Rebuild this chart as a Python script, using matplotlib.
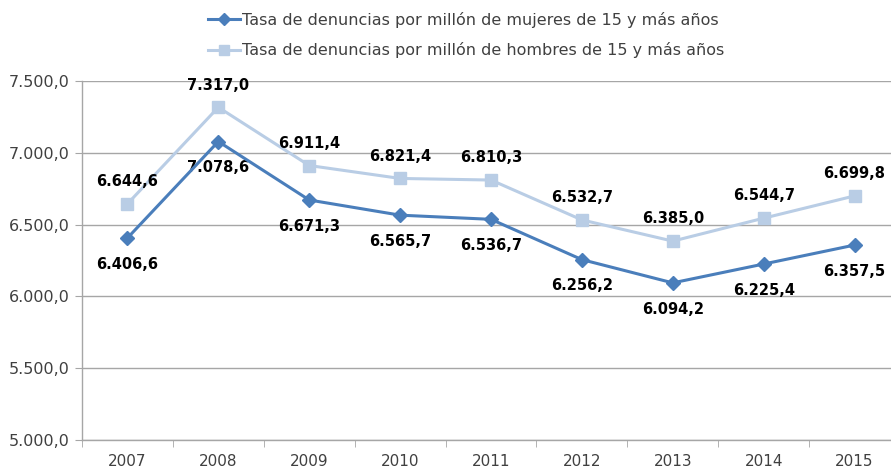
import matplotlib
matplotlib.use("Agg")
import matplotlib.pyplot as plt
from matplotlib.ticker import FuncFormatter, FixedLocator

years = ["2007", "2008", "2009", "2010", "2011", "2012", "2013", "2014", "2015"]
mujeres = [6406.6, 7078.6, 6671.3, 6565.7, 6536.7, 6256.2, 6094.2, 6225.4, 6357.5]
hombres = [6644.6, 7317.0, 6911.4, 6821.4, 6810.3, 6532.7, 6385.0, 6544.7, 6699.8]
label_m = "Tasa de denuncias por millón de mujeres de 15 y más años"
label_h = "Tasa de denuncias por millón de hombres de 15 y más años"

plt.rcParams['font.family'] = ['DejaVu Sans']

def es_fmt(v):
    s = f"{v:,.1f}"
    return s.replace(",", "X").replace(".", ",").replace("X", ".")

c_m = "#4A7EBB"
c_h = "#B9CDE5"
grid_c = "#A6A6A6"
txt_c = "#404040"

fig = plt.figure(figsize=(8.91, 4.72), dpi=100)
ax = fig.add_axes([82/891, 32/472, (900-82)/891, (440-81)/472])

x = list(range(len(years)))
ax.plot(x, hombres, color=c_h, lw=2.2, marker="s", ms=9, label=label_h, zorder=3)
ax.plot(x, mujeres, color=c_m, lw=2.2, marker="D", ms=7.5, label=label_m, zorder=4)

for xi, v in zip(x, hombres):
    ax.annotate(es_fmt(v), (xi, v), xytext=(0, 16), textcoords="offset points",
                ha="center", va="center", fontsize=10.5, fontweight="bold", color="black")
for xi, v in zip(x, mujeres):
    ax.annotate(es_fmt(v), (xi, v), xytext=(0, -19), textcoords="offset points",
                ha="center", va="center", fontsize=10.5, fontweight="bold", color="black")

ax.set_xlim(-0.5, 8.5)
ax.set_ylim(5000, 7500)
ax.set_yticks([5000, 5500, 6000, 6500, 7000, 7500])
ax.yaxis.set_major_formatter(FuncFormatter(lambda v, p: es_fmt(v)))
ax.set_xticks(x)
ax.set_xticklabels(years)
ax.xaxis.set_minor_locator(FixedLocator([i + 0.5 for i in range(-1, len(years))]))
ax.tick_params(axis="x", which="major", length=0, pad=10, labelsize=11, colors=txt_c)
ax.tick_params(axis="x", which="minor", length=5, color=grid_c, direction="out")
ax.tick_params(axis="y", length=5, color=grid_c, labelsize=11.5, labelcolor=txt_c, pad=4)

ax.grid(axis="y", color=grid_c, lw=1)
ax.set_axisbelow(True)
for s in ["top", "right"]:
    ax.spines[s].set_visible(False)
for s in ["left", "bottom"]:
    ax.spines[s].set_color(grid_c)
    ax.spines[s].set_linewidth(1)

handles, labels = ax.get_legend_handles_labels()
leg = fig.legend(handles[::-1], labels[::-1], loc="upper center",
                 bbox_to_anchor=(466/891, 1.005), frameon=False, fontsize=11.5,
                 handlelength=2.0, handletextpad=0.15, labelspacing=0.9,
                 labelcolor=txt_c, markerscale=0.8)

fig.savefig("out.png", dpi=100)
